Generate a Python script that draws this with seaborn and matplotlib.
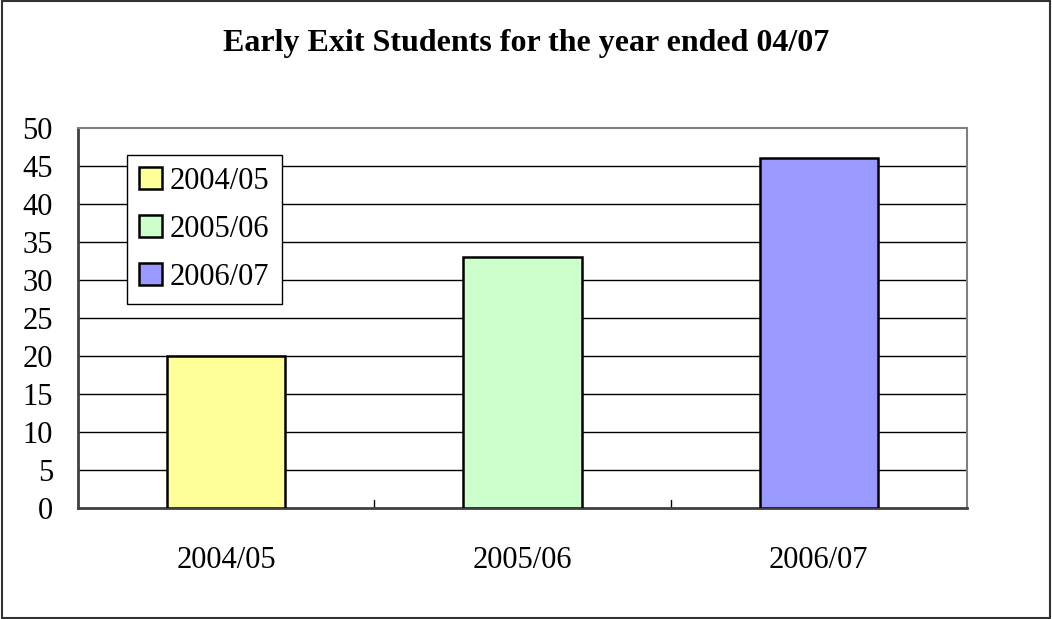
import matplotlib.pyplot as plt
import seaborn as sns
import pandas as pd
from matplotlib.patches import Patch, Rectangle

years = ["2004/05", "2005/06", "2006/07"]
students = [20, 33, 46]
bar_colors = ["#FFFF99", "#CCFFCC", "#9999FF"]
y_ticks = list(range(0, 51, 5))

sns.set_theme(style="white")
plt.rcParams['font.family'] = ['Liberation Serif', 'DejaVu Serif']
plt.rcParams['text.color'] = 'black'
plt.rcParams['xtick.color'] = 'black'
plt.rcParams['ytick.color'] = 'black'

df = pd.DataFrame({"year": years, "students": students})

fig = plt.figure(figsize=(10.52, 6.19), dpi=100)
ax = fig.add_axes([78 / 1052, 1 - 508 / 619, (967 - 78) / 1052, (508 - 128) / 619])

sns.barplot(data=df, x="year", y="students", hue="year", palette=bar_colors,
            saturation=1, width=0.4, edgecolor="black", linewidth=1.8,
            legend=False, ax=ax, zorder=3)

ax.set_ylim(0, 50)
ax.set_xlim(-0.5, 2.5)
ax.set_yticks(y_ticks)
ax.set_yticklabels([str(t) for t in y_ticks], fontsize=22)
ax.set_xticks(range(len(years)))
ax.set_xticklabels(years, fontsize=22)
ax.tick_params(axis="x", length=0, pad=27)
ax.tick_params(axis="y", direction="in", length=10, width=1, color="black", pad=18)
ax.set_xlabel("")
ax.set_ylabel("")

# gridlines
for t in y_ticks[1:-1]:
    ax.axhline(t, color="black", linewidth=1, zorder=1)

# category boundary ticks on the x axis
for b in [0.5, 1.5]:
    ax.plot([b, b], [0, 1], color="black", linewidth=1, zorder=2)

for side in ["top", "right"]:
    ax.spines[side].set_color("#808080")
    ax.spines[side].set_linewidth(1.5)
ax.spines["left"].set_color("#404040")
ax.spines["left"].set_linewidth(2)
ax.spines["bottom"].set_color("#404040")
ax.spines["bottom"].set_linewidth(2)

handles = [Patch(facecolor=c, edgecolor="black", linewidth=1.8, label=y)
           for c, y in zip(bar_colors, years)]
leg = ax.legend(handles=handles, loc="upper left", bbox_to_anchor=(0.055, 0.93),
                fontsize=22, frameon=True, fancybox=False, framealpha=1,
                edgecolor="black", handlelength=0.75, handleheight=0.75,
                handletextpad=0.25, labelspacing=0.62, borderpad=0.4, borderaxespad=0)
leg.get_frame().set_linewidth(1)

fig.text(0.5, 1 - 43 / 619, "Early Exit Students for the year ended 04/07",
         ha="center", va="center", fontsize=23, fontweight="bold")

fig.patches.append(Rectangle((0.002, 0.002), 0.996, 0.996, transform=fig.transFigure,
                             fill=False, edgecolor="#333333", linewidth=1.5))

fig.savefig("out.png", dpi=100)
